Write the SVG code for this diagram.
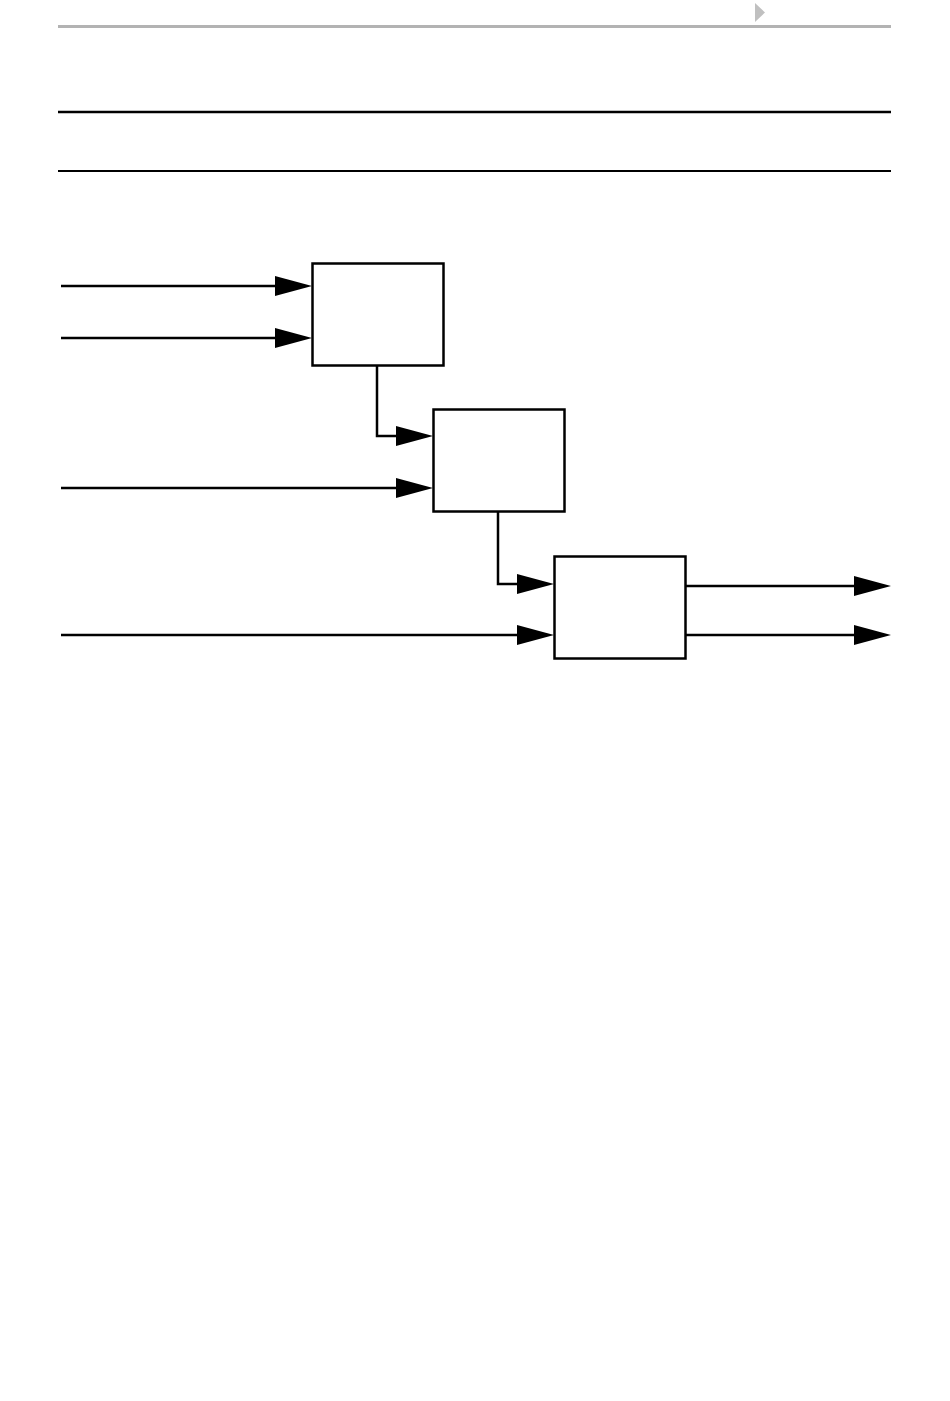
<svg xmlns="http://www.w3.org/2000/svg" width="950" height="1401" viewBox="0 0 950 1401">
<style>
.box{fill:#fff;stroke:#000;stroke-width:2.5}
.wire{fill:none;stroke:#000;stroke-width:2.5}
</style>
<defs>
<marker id="arr" viewBox="0 0 37 20" refX="27" refY="10" markerWidth="37" markerHeight="20" markerUnits="userSpaceOnUse" orient="auto">
<path d="M0,0 L37,10 L0,20 z" fill="#000"/>
</marker>
</defs>
<rect width="950" height="1401" fill="#fff"/>
<g id="header">
<line x1="58" y1="26.5" x2="891" y2="26.5" stroke="#b3b3b3" stroke-width="3"/>
<polygon points="755,3 765,12.5 755,22" fill="#c0c0c0"/>
<line x1="58" y1="112" x2="891" y2="112" stroke="#000" stroke-width="2.5"/>
<line x1="58" y1="171" x2="891" y2="171" stroke="#000" stroke-width="1.8"/>
</g>
<g id="connectors">
<line class="wire" x1="61" y1="286" x2="302" y2="286" marker-end="url(#arr)"/>
<line class="wire" x1="61" y1="338" x2="302" y2="338" marker-end="url(#arr)"/>
<path class="wire" d="M377,366 V436 H423" marker-end="url(#arr)"/>
<line class="wire" x1="61" y1="488" x2="423" y2="488" marker-end="url(#arr)"/>
<path class="wire" d="M498,512 V584 H544" marker-end="url(#arr)"/>
<line class="wire" x1="61" y1="635" x2="544" y2="635" marker-end="url(#arr)"/>
<line class="wire" x1="686" y1="586" x2="881" y2="586" marker-end="url(#arr)"/>
<line class="wire" x1="686" y1="635" x2="881" y2="635" marker-end="url(#arr)"/>
</g>
<g id="node1"><rect class="box" x="312.5" y="263.5" width="131" height="102"/></g>
<g id="node2"><rect class="box" x="433.5" y="409.5" width="131" height="102"/></g>
<g id="node3"><rect class="box" x="554.5" y="556.5" width="131" height="102"/></g>
</svg>
